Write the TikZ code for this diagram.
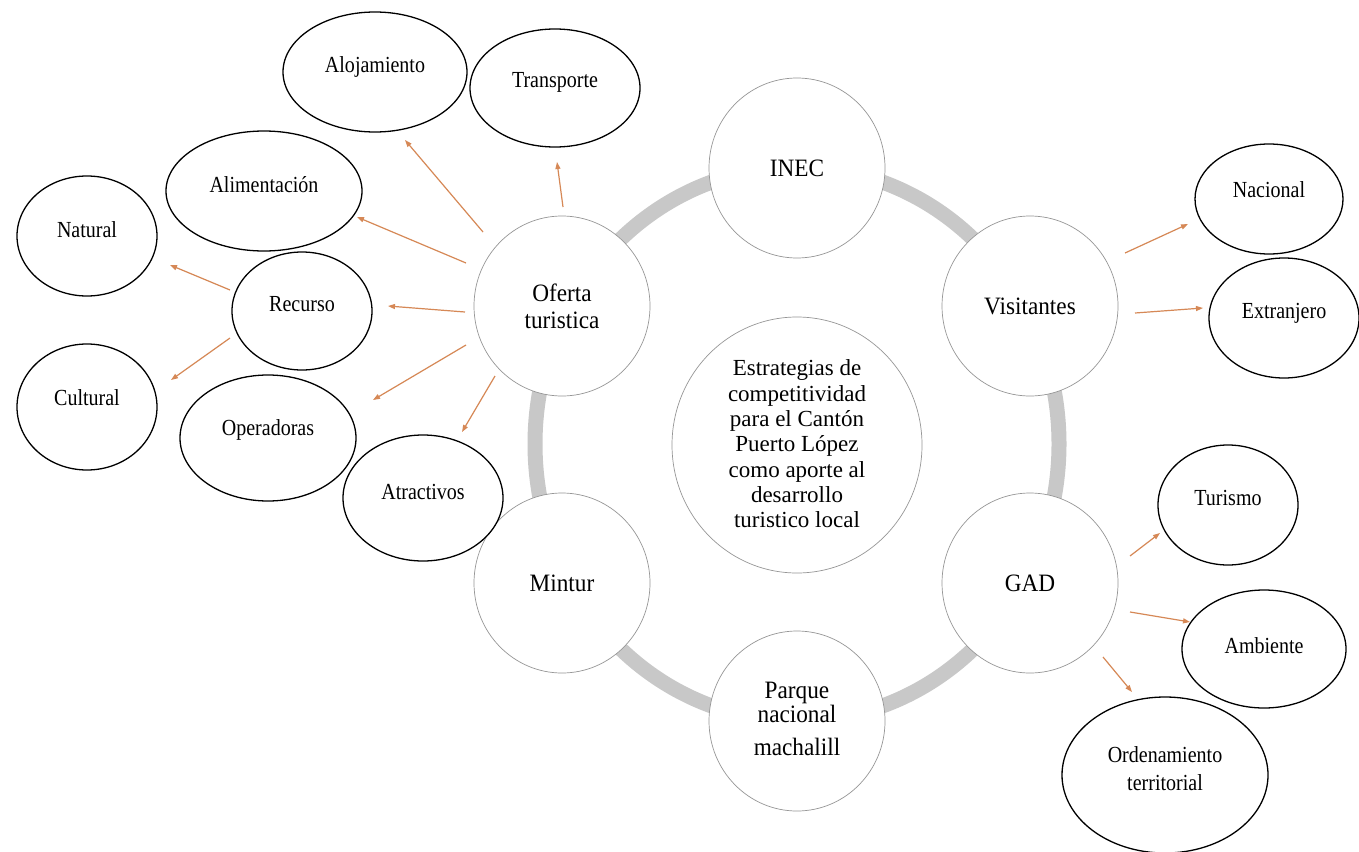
\documentclass[tikz,border=0pt]{standalone}
\usepackage{fontspec}
\setmainfont{Liberation Serif}
\newfontfamily\narrowfont[FakeStretch=0.87]{Liberation Serif}
\newfontfamily\cycfont[FakeStretch=0.93]{Liberation Serif}
\usetikzlibrary{shapes.geometric,arrows.meta}
\definecolor{ringgray}{RGB}{200,200,200}
\definecolor{cycgray}{RGB}{150,150,150}
\definecolor{arrcol}{RGB}{214,136,86}
\tikzset{
  oval/.style={ellipse, draw=black, line width=1.3pt, fill=white, inner sep=0pt},
  cyc/.style={ellipse, draw=cycgray, line width=0.7pt, fill=white, inner sep=0pt, minimum width=176pt, minimum height=180pt},
  lbl/.style={inner sep=0pt, align=center, font=\narrowfont\fontsize{23}{28}\selectfont},
  clbl/.style={inner sep=0pt, align=center, font=\cycfont\fontsize{25}{27}\selectfont},
  arr/.style={draw=arrcol, line width=1.2pt, -{Triangle[length=7pt,width=5pt]}}
}
\begin{document}
\begin{tikzpicture}[x=1pt,y=-1pt]
\useasboundingbox[fill=white] (0,0) rectangle (1359,851);
% ring
\draw[line width=15pt, ringgray] (797,444) ellipse [x radius=262pt, y radius=277pt];
% cycle nodes
\node[cyc] (inec) at (797,168) {};
\node[cyc] (visit) at (1030,306) {};
\node[cyc] (gad) at (1030,583) {};
\node[cyc] (parque) at (797,721) {};
\node[cyc] (mintur) at (562,583) {};
\node[cyc] (oferta) at (562,306) {};
\node[ellipse, draw=cycgray, line width=0.7pt, fill=white, inner sep=0pt, minimum width=250pt, minimum height=256pt] (centro) at (797,445) {};
\node[clbl] (tinec) at (inec.center) {INEC};
\node[clbl] (tvisit) at (visit.center) {Visitantes};
\node[clbl] (tgad) at (gad.center) {GAD};
\node[clbl] (tmintur) at (mintur.center) {Mintur};
\node[clbl] (toferta) at (oferta.center) {Oferta\\turistica};
\node[clbl] (tparque) at ([yshift=2pt]parque.center) {Parque\\[-3pt]nacional\\[6pt]machalill};
\node[inner sep=0pt, align=center, font=\fontsize{23}{25.3}\selectfont] (tcentro) at ([yshift=1pt]centro.center) {Estrategias de\\competitividad\\para el Cantón\\Puerto López\\como aporte al\\desarrollo\\turistico local};
% outer ovals
\node[oval, minimum width=184pt, minimum height=120pt] (aloj) at (375,72) {};
\node[oval, minimum width=170pt, minimum height=118pt] (transp) at (555,88) {};
\node[oval, minimum width=196pt, minimum height=120pt] (alim) at (264,191) {};
\node[oval, minimum width=140pt, minimum height=120pt] (natural) at (87,236) {};
\node[oval, minimum width=140pt, minimum height=118pt] (recurso) at (302,311) {};
\node[oval, minimum width=140pt, minimum height=126pt] (cultural) at (87,407) {};
\node[oval, minimum width=176pt, minimum height=126pt] (operad) at (268,438) {};
\node[oval, minimum width=160pt, minimum height=126pt] (atract) at (423,498) {};
\node[oval, minimum width=148pt, minimum height=110pt] (nacional) at (1269,199) {};
\node[oval, minimum width=150pt, minimum height=120pt] (extranj) at (1284,318) {};
\node[oval, minimum width=140pt, minimum height=120pt] (turismo) at (1228,505) {};
\node[oval, minimum width=164pt, minimum height=118pt] (ambiente) at (1264,649) {};
\node[oval, minimum width=206pt, minimum height=156pt] (orden) at (1165,775) {};
\node[lbl] (taloj) at ([yshift=5pt]aloj.center) {Alojamiento};
\node[lbl] (ttransp) at ([yshift=6pt]transp.center) {Transporte};
\node[lbl] (talim) at ([yshift=6pt]alim.center) {Alimentación};
\node[lbl] (tnatural) at ([yshift=6pt]natural.center) {Natural};
\node[lbl] (trecurso) at ([yshift=7pt]recurso.center) {Recurso};
\node[lbl] (tcultural) at ([yshift=9pt]cultural.center) {Cultural};
\node[lbl] (toperad) at ([yshift=8pt]operad.center) {Operadoras};
\node[lbl] (tatract) at ([yshift=6pt]atract.center) {Atractivos};
\node[lbl] (tnacional) at ([yshift=9pt]nacional.center) {Nacional};
\node[lbl] (textranj) at ([yshift=5pt]extranj.center) {Extranjero};
\node[lbl] (tturismo) at ([yshift=7pt]turismo.center) {Turismo};
\node[lbl] (tambiente) at ([yshift=3pt]ambiente.center) {Ambiente};
\node[lbl] (torden) at ([yshift=6pt]orden.center) {Ordenamiento\\territorial};
% arrow end points
\coordinate (o1) at (563,207); \coordinate (e1) at (557,162);
\coordinate (o2) at (483,232); \coordinate (e2) at (405,140);
\coordinate (o3) at (466,263); \coordinate (e3) at (357,217);
\coordinate (o4) at (465,312); \coordinate (e4) at (388,306);
\coordinate (o5) at (466,345); \coordinate (e5) at (373,400);
\coordinate (o6) at (495,376); \coordinate (e6) at (462,432);
\coordinate (r1) at (230,290); \coordinate (e7) at (170,265);
\coordinate (r2) at (230,338); \coordinate (e8) at (171,380);
\coordinate (v1) at (1125,253); \coordinate (e9) at (1188,224);
\coordinate (v2) at (1135,313); \coordinate (e10) at (1203,308);
\coordinate (g1) at (1130,556); \coordinate (e11) at (1160,533);
\coordinate (g2) at (1130,612); \coordinate (e12) at (1190,622);
\coordinate (g3) at (1103,657); \coordinate (e13) at (1132,692);
\draw[arr] (o1) -- (e1);
\draw[arr] (o2) -- (e2);
\draw[arr] (o3) -- (e3);
\draw[arr] (o4) -- (e4);
\draw[arr] (o5) -- (e5);
\draw[arr] (o6) -- (e6);
\draw[arr] (r1) -- (e7);
\draw[arr] (r2) -- (e8);
\draw[arr] (v1) -- (e9);
\draw[arr] (v2) -- (e10);
\draw[arr] (g1) -- (e11);
\draw[arr] (g2) -- (e12);
\draw[arr] (g3) -- (e13);
\end{tikzpicture}
\end{document}
